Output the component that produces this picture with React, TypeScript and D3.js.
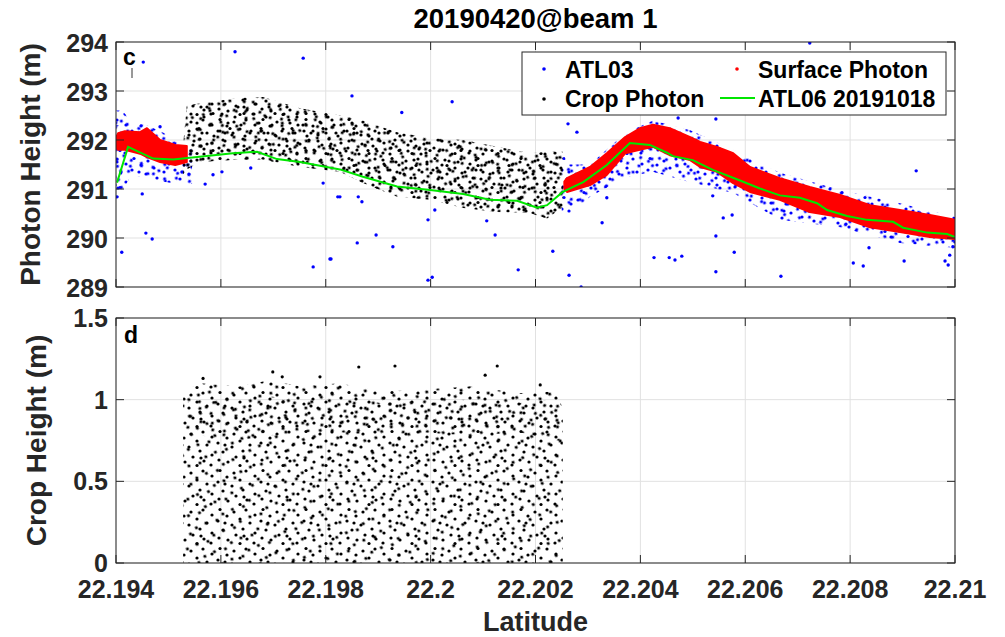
import React from 'react';
import * as d3 from 'd3';

// ---------- text ----------
const chartTitle = '20190420@beam 1';
const xTicks = [22.194, 22.196, 22.198, 22.2, 22.202, 22.204, 22.206, 22.208, 22.21];
const xTickLabels = ['22.194', '22.196', '22.198', '22.2', '22.202', '22.204', '22.206', '22.208', '22.21'];
const topYTicks = [289, 290, 291, 292, 293, 294];
const topYTickLabels = ['289', '290', '291', '292', '293', '294'];
const botYTicks = [0, 0.5, 1, 1.5];
const botYTickLabels = ['0', '0.5', '1', '1.5'];
const legendLabels = ['ATL03', 'Surface Photon', 'Crop Photon', 'ATL06 20191018'];

// ---------- ATL06 20191018 (green line) ----------
const atl06Lat = [22.19402, 22.19423, 22.19471, 22.19509, 22.19623, 22.19669, 22.19707, 22.19751, 22.19827,
  22.19871, 22.19936, 22.19999, 22.20062, 22.20113, 22.20165, 22.20203, 22.20222, 22.20252, 22.20291,
  22.20336, 22.2038, 22.20418, 22.20451, 22.20462, 22.205, 22.20538, 22.20584, 22.20628, 22.20666,
  22.20704, 22.20737, 22.20756, 22.20794, 22.20832, 22.20882, 22.20901, 22.20947, 22.20985, 22.21];
const atl06H = [291.13, 291.86, 291.62, 291.6, 291.73, 291.76, 291.61, 291.55, 291.4,
  291.25, 291.05, 290.98, 290.9, 290.78, 290.76, 290.62, 290.67, 290.94, 291.14,
  291.49, 291.94, 291.9, 291.74, 291.67, 291.59, 291.39, 291.2, 291.01, 290.87,
  290.82, 290.71, 290.57, 290.45, 290.37, 290.33, 290.21, 290.11, 290.08, 290.02];

// ---------- Surface photons (red), band envelopes ----------
const surfLeftLat = [22.19400, 22.19404, 22.19417, 22.19446, 22.19459, 22.19484, 22.19513, 22.19535];
const surfLeftLow = [291.85, 291.8, 291.8, 291.72, 291.65, 291.55, 291.49, 291.55];
const surfLeftHigh = [292.05, 292.14, 292.18, 292.16, 292.24, 292.0, 291.9, 291.88];

const surfRightLat = [22.20255, 22.2026, 22.20304, 22.20336, 22.20371, 22.20399, 22.20424, 22.20456, 22.20495,
  22.20514, 22.20546, 22.20577, 22.20609, 22.20666, 22.20723, 22.20781, 22.20838, 22.20895, 22.20952, 22.21];
const surfRightLow = [291.0, 290.94, 291.08, 291.29, 291.73, 291.8, 291.86, 291.69, 291.59,
  291.45, 291.35, 291.12, 290.94, 290.78, 290.53, 290.43, 290.22, 290.12, 290.02, 289.98];
const surfRightHigh = [291.15, 291.22, 291.45, 291.73, 292.06, 292.24, 292.31, 292.24, 292.06,
  291.96, 291.86, 291.73, 291.45, 291.22, 291.04, 290.88, 290.67, 290.57, 290.47, 290.37];

// ---------- ATL03 photons (blue): dense envelopes + isolated photons ----------
const atl03LeftLat = [22.194, 22.19412, 22.1943, 22.19459, 22.1949, 22.1952, 22.19545];
const atl03LeftLow = [290.95, 290.95, 291.3, 291.2, 291.15, 291.1, 291.1];
const atl03LeftHigh = [292.6, 292.6, 292.35, 292.3, 292.15, 291.95, 291.8];

const atl03RightLat = [22.2025, 22.20262, 22.20304, 22.20371, 22.20424, 22.20495, 22.20577, 22.20666, 22.20781, 22.20895, 22.21];
const atl03RightLow = [290.5, 290.45, 290.84, 291.24, 291.35, 291.14, 290.92, 290.37, 290.22, 289.9, 289.8];
const atl03RightHigh = [291.8, 291.5, 291.5, 292.14, 292.4, 292.2, 291.8, 291.33, 290.98, 290.71, 290.43];

const atl03OutLat = [22.19452, 22.19627, 22.19757, 22.19484, 22.1945, 22.19457, 22.19469, 22.19411, 22.19402,
  22.1957, 22.19585, 22.19602, 22.19657, 22.19776, 22.1981, 22.19795, 22.19823,
  22.1985, 22.19945, 22.20041, 22.19827, 22.19862, 22.19869, 22.19896, 22.1986, 22.19928, 22.19808,
  22.20008, 22.19995, 22.19995, 22.20003, 22.20107, 22.20123, 22.20233, 22.20167, 22.20264, 22.20287,
  22.20262, 22.20279, 22.20327, 22.20336, 22.20426, 22.20455,
  22.20723, 22.20466, 22.20479, 22.20544, 22.20544, 22.20558, 22.20575, 22.20579, 22.20538, 22.20668,
  22.20926, 22.20806, 22.20825, 22.20836, 22.20903, 22.20544, 22.20472, 22.20987, 22.20981, 22.20996,
  22.21, 22.2099];
const atl03OutH = [293.59, 293.8, 293.67, 292.27, 290.9, 290.1, 289.98, 289.71, 290.84,
  291.1, 291.29, 291.35, 291.43, 289.41, 289.57, 291.12, 290.84,
  292.9, 292.56, 292.78, 290.84, 290.84, 290.74, 290.06, 289.9, 289.82, 289.57,
  290.57, 290.37, 289.14, 289.2, 290.35, 290.06, 289.73, 289.35, 289.24, 289.0,
  292.33, 292.16, 290.31, 290.82, 289.6, 289.6,
  293.98, 289.55, 289.63, 289.31, 290.04, 290.41, 290.47, 289.71, 290.86, 289.22,
  291.37, 289.49, 289.43, 289.8, 289.53, 292.43, 292.45, 289.45, 289.53, 289.82,
  289.92, 289.65];

// ---------- Crop photons, top panel (black), envelope ----------
const cropTopLat = [22.19528, 22.19535, 22.1956, 22.19636, 22.1968, 22.19751, 22.19827, 22.19871,
  22.19936, 22.19999, 22.20062, 22.20127, 22.20189, 22.20222, 22.20252];
const cropTopLow = [291.3, 291.4, 291.55, 291.6, 291.6, 291.45, 291.35, 291.12,
  290.84, 290.78, 290.61, 290.53, 290.51, 290.4, 290.63];
const cropTopHigh = [291.9, 292.7, 292.75, 292.86, 292.88, 292.65, 292.5, 292.4,
  292.16, 292.04, 292.0, 291.86, 291.73, 291.76, 291.76];

// ---------- Crop height, bottom panel (black) ----------
const cropLat = [22.19528, 22.1956, 22.19636, 22.19694, 22.19751, 22.19827, 22.19904, 22.1998, 22.20075, 22.2017, 22.20237, 22.20252];
const cropHigh = [1.05, 1.1, 1.08, 1.12, 1.08, 1.1, 1.05, 1.06, 1.08, 1.04, 1.05, 0.95];
const cropDenseLow = [0.8, 0.78, 0.75, 0.78, 0.8, 0.8, 0.78, 0.8, 0.78, 0.8, 0.75, 0.75];
const cropDenseHigh = [0.98, 1.0, 0.98, 1.02, 1.0, 1.02, 0.98, 1.0, 1.0, 0.98, 1.0, 0.9];
const cropOutLat = [22.19932, 22.20127, 22.20104, 22.19863, 22.20209, 22.19699, 22.19717, 22.19566, 22.19789];
const cropOutH = [1.206, 1.206, 1.15, 1.2, 1.09, 1.17, 1.14, 1.13, 1.14];

export default function App() {
  const W = 1005, H = 637;
  const L = 116, R = 955;
  const topT = 42, topB = 287, botT = 318, botB = 563;
  const axisColor = '#262626';
  const gridColor = '#e1e1e1';
  const font = '"Liberation Sans", Arial, Helvetica, sans-serif';

  const x = d3.scaleLinear().domain([22.194, 22.21]).range([L, R]);
  const yT = d3.scaleLinear().domain([289, 294]).range([topB, topT]);
  const yB = d3.scaleLinear().domain([0, 1.5]).range([botB, botT]);

  const band = (lat: number[], lo: number[] | null, hi: number[], y: d3.ScaleLinear<number, number>) =>
    d3.area<number>()
      .x((i) => x(lat[i]))
      .y0((i) => y(lo ? lo[i] : 0))
      .y1((i) => y(hi[i]))(lat.map((_, i) => i)) || '';

  const greenLine = d3.line<number>().x((i) => x(atl06Lat[i])).y((i) => yT(atl06H[i]))(atl06Lat.map((_, i) => i)) || '';

  // dot textures (style) used to render the dense photon clouds inside their envelopes
  const textures = [
    {
      key: 'a', w: 43, h: 39, rot: 0, dots: [[5, 2.5], [19, 5], [31, 3], [40, 8], [12, 9], [25, 12], [3, 14], [35, 16], [17, 18],
        [8, 23], [28, 22], [40, 26], [21, 28], [4, 31], [13, 33], [32, 32], [25, 36.5], [39, 36], [10, 16], [29, 29]]
    },
    { key: 'b', w: 31, h: 37, rot: 0, dots: [[5, 3], [18, 6], [27, 2.5], [11, 12], [24, 14], [3, 20], [16, 22], [28, 25], [8, 30], [21, 33], [13, 17.5]] },
    { key: 'c', w: 19, h: 23, rot: 23, dots: [[4, 3], [14, 10], [7, 18]] },
    { key: 'e', w: 27, h: 25, rot: -31, dots: [[3, 5], [15, 3], [22, 13], [9, 15], [18, 22]] },
  ];
  const colors: [string, string][] = [['k', '#000000'], ['bl', '#0000ff']];

  const tickLen = 8;

  const frame = (t: number, b: number) => (
    <rect x={L} y={t} width={R - L} height={b - t} fill="none" stroke={axisColor} strokeWidth={1} />
  );

  return (
    <svg width={W} height={H} style={{ position: 'absolute', left: 0, top: 0, background: '#fff' }} fontFamily={font}>
      <defs>
        {colors.map(([ck, col]) => textures.map((t) => (
          <pattern key={ck + t.key} id={`tex-${ck}-${t.key}`} width={t.w} height={t.h} patternUnits="userSpaceOnUse"
            patternTransform={t.rot ? `rotate(${t.rot})` : undefined}>
            {t.dots.map(([cx, cy], i) => <circle key={i} cx={cx} cy={cy} r={1.6} fill={col} />)}
          </pattern>
        )))}
        <clipPath id="clipTop"><rect x={L} y={topT} width={R - L} height={topB - topT} /></clipPath>
        <clipPath id="clipBot"><rect x={L} y={botT} width={R - L} height={botB - botT} /></clipPath>
      </defs>
      <rect x={0} y={0} width={W} height={H} fill="#fff" />

      {/* ---------- title ---------- */}
      <text x={(L + R) / 2} y={28} textAnchor="middle" fontSize={27.5} fontWeight="bold" fill="#000">{chartTitle}</text>

      {/* ---------- top panel grid ---------- */}
      <g>
        {xTicks.map((t) => <line key={'gx' + t} x1={x(t)} x2={x(t)} y1={topT} y2={topB} stroke={gridColor} strokeWidth={1} />)}
        {topYTicks.map((t) => <line key={'gy' + t} x1={L} x2={R} y1={yT(t)} y2={yT(t)} stroke={gridColor} strokeWidth={1} />)}
      </g>

      {/* ---------- top panel data ---------- */}
      <g clipPath="url(#clipTop)">
        {/* ATL03 dense photons */}
        {['a', 'c', 'e'].map((k) => (
          <g key={'b' + k}>
            <path d={band(atl03LeftLat, atl03LeftLow, atl03LeftHigh, yT)} fill={`url(#tex-bl-${k})`} />
            <path d={band(atl03RightLat, atl03RightLow, atl03RightHigh, yT)} fill={`url(#tex-bl-${k})`} />
          </g>
        ))}
        <path d={band([22.194, 22.19412], [291.0, 291.0], [292.3, 292.3], yT)} fill={'url(#tex-bl-b)'} />
        {atl03OutLat.map((lat, i) => <circle key={'o' + i} cx={x(lat)} cy={yT(atl03OutH[i])} r={1.7} fill="#0000ff" />)}
        {/* crop photons */}
        {['a', 'b', 'c', 'e'].map((k) => (
          <path key={'k' + k} d={band(cropTopLat, cropTopLow, cropTopHigh, yT)} fill={`url(#tex-k-${k})`} />
        ))}
        {/* surface photons */}
        <path d={band(surfLeftLat, surfLeftLow, surfLeftHigh, yT)} fill="#ff0000" stroke="#ff0000" strokeWidth={2} strokeLinejoin="round" />
        <path d={band(surfRightLat, surfRightLow, surfRightHigh, yT)} fill="#ff0000" stroke="#ff0000" strokeWidth={2} strokeLinejoin="round" />
        {/* ATL06 */}
        <path d={greenLine} fill="none" stroke="#00e600" strokeWidth={2} />
      </g>

      {/* ---------- top panel axes ---------- */}
      <g>
        {xTicks.map((t) => (
          <g key={'tx' + t}>
            <line x1={x(t)} x2={x(t)} y1={topB} y2={topB - tickLen} stroke={axisColor} />
            <line x1={x(t)} x2={x(t)} y1={topT} y2={topT + tickLen} stroke={axisColor} />
          </g>
        ))}
        {topYTicks.map((t, i) => (
          <g key={'ty' + t}>
            <line x1={L} x2={L + tickLen} y1={yT(t)} y2={yT(t)} stroke={axisColor} />
            <line x1={R} x2={R - tickLen} y1={yT(t)} y2={yT(t)} stroke={axisColor} />
            <text x={108} y={yT(t) + 10} textAnchor="end" fontSize={25} fontWeight="bold" fill={axisColor}>{topYTickLabels[i]}</text>
          </g>
        ))}
        {frame(topT, topB)}
        <text transform={`translate(40,${(topT + topB) / 2}) rotate(-90)`} textAnchor="middle" fontSize={28} fontWeight="bold" fill={axisColor}>Photon Height (m)</text>
        <text x={123} y={65} fontSize={23} fontWeight="bold" fill="#000">c</text>
        <line x1={132} x2={132} y1={68} y2={78} stroke="#333" strokeWidth={1} />
      </g>

      {/* ---------- legend ---------- */}
      <g>
        <rect x={522} y={52} width={424} height={63} fill="#fff" stroke={axisColor} strokeWidth={1} />
        <circle cx={544} cy={69} r={1.8} fill="#0000ff" />
        <text x={565} y={78} fontSize={23} fontWeight="bold" fill="#000">{legendLabels[0]}</text>
        <circle cx={737} cy={69} r={1.8} fill="#ff0000" />
        <text x={758} y={78} fontSize={23} fontWeight="bold" fill="#000">{legendLabels[1]}</text>
        <circle cx={544} cy={99} r={1.8} fill="#000" />
        <text x={565} y={107} fontSize={23} fontWeight="bold" fill="#000">{legendLabels[2]}</text>
        <line x1={720} x2={755} y1={98} y2={98} stroke="#00e600" strokeWidth={2} />
        <text x={758} y={107} fontSize={23} fontWeight="bold" fill="#000">{legendLabels[3]}</text>
      </g>

      {/* ---------- bottom panel grid ---------- */}
      <g>
        {xTicks.map((t) => <line key={'bgx' + t} x1={x(t)} x2={x(t)} y1={botT} y2={botB} stroke={gridColor} strokeWidth={1} />)}
        {botYTicks.map((t) => <line key={'bgy' + t} x1={L} x2={R} y1={yB(t)} y2={yB(t)} stroke={gridColor} strokeWidth={1} />)}
      </g>

      {/* ---------- bottom panel data ---------- */}
      <g clipPath="url(#clipBot)">
        <path d={band(cropLat, null, cropHigh, yB)} fill={'url(#tex-k-a)'} />
        <path d={band(cropLat, null, cropHigh, yB)} fill={'url(#tex-k-c)'} />
        <path d={band(cropLat, cropDenseLow, cropDenseHigh, yB)} fill={'url(#tex-k-e)'} />
        {cropOutLat.map((lat, i) => <circle key={'co' + i} cx={x(lat)} cy={yB(cropOutH[i])} r={1.6} fill="#000" />)}
      </g>

      {/* ---------- bottom panel axes ---------- */}
      <g>
        {xTicks.map((t, i) => (
          <g key={'bx' + t}>
            <line x1={x(t)} x2={x(t)} y1={botB} y2={botB - tickLen} stroke={axisColor} />
            <line x1={x(t)} x2={x(t)} y1={botT} y2={botT + tickLen} stroke={axisColor} />
            <text x={x(t)} y={598} textAnchor="middle" fontSize={25} fontWeight="bold" fill={axisColor}>{xTickLabels[i]}</text>
          </g>
        ))}
        {botYTicks.map((t, i) => (
          <g key={'by' + t}>
            <line x1={L} x2={L + tickLen} y1={yB(t)} y2={yB(t)} stroke={axisColor} />
            <line x1={R} x2={R - tickLen} y1={yB(t)} y2={yB(t)} stroke={axisColor} />
            <text x={108} y={yB(t) + 9} textAnchor="end" fontSize={25} fontWeight="bold" fill={axisColor}>{botYTickLabels[i]}</text>
          </g>
        ))}
        {frame(botT, botB)}
        <text transform={`translate(46,${(botT + botB) / 2}) rotate(-90)`} textAnchor="middle" fontSize={28} fontWeight="bold" fill={axisColor}>Crop Height (m)</text>
        <text x={(L + R) / 2} y={631} textAnchor="middle" fontSize={27} fontWeight="bold" fill={axisColor}>Latitude</text>
        <text x={124} y={343} fontSize={23} fontWeight="bold" fill="#000">d</text>
      </g>
    </svg>
  );
}
